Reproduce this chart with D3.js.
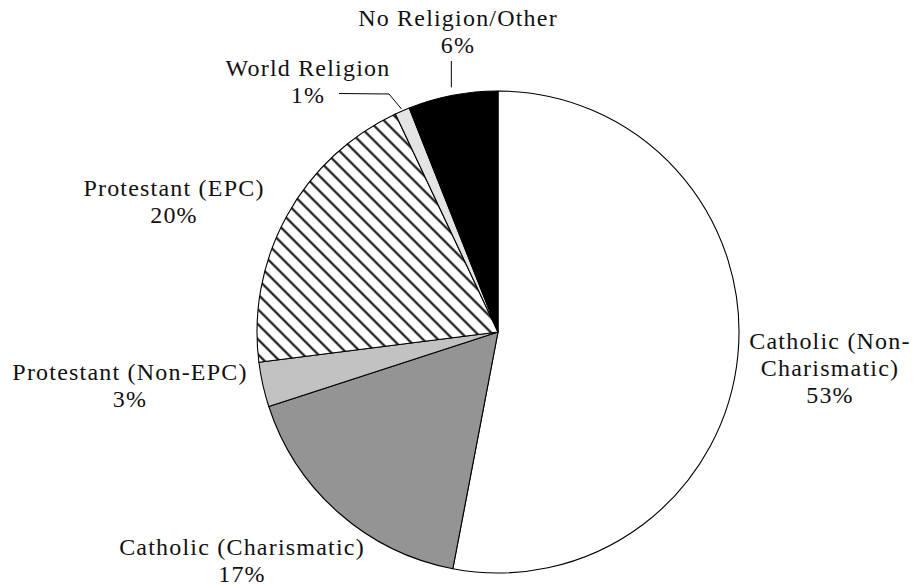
<!DOCTYPE html>
<html>
<head>
<meta charset="utf-8">
<script src="https://cdn.jsdelivr.net/npm/d3@7/dist/d3.min.js"></script>
<style>
  html, body { margin: 0; padding: 0; background: #fff; }
  svg text { font-family: "Liberation Serif", "Times New Roman", serif; font-size: 24px; letter-spacing: 1.2px; fill: #111; }
</style>
</head>
<body>
<svg id="chart" width="913" height="586"></svg>
<script>
// Religious affiliation shares, clockwise from 12 o'clock
const categories = [
  "Catholic (Non-Charismatic)",
  "Catholic (Charismatic)",
  "Protestant (Non-EPC)",
  "Protestant (EPC)",
  "World Religion",
  "No Religion/Other"
];
const shares = [53, 17, 3, 20, 1, 6];

// Label text lines for each slice (the value line is appended from shares)
const labelLines = [
  ["Catholic (Non-", "Charismatic)"],
  ["Catholic (Charismatic)"],
  ["Protestant (Non-EPC)"],
  ["Protestant (EPC)"],
  ["World Religion"],
  ["No Religion/Other"]
];

// Label anchor (centre x, first baseline y) per slice
const labelPos = [
  [830, 349],
  [242, 555],
  [130, 380],
  [174, 196],
  [308, 76],
  [458, 26]
];

const fills = ["#ffffff", "#949494", "#c2c2c2", "url(#hatch)", "#e4e4e4", "#000000"];

const svg = d3.select("#chart");
const cx = 498, cy = 332, radius = 241;

// diagonal hatch for the EPC slice
const hs = 10.6;
const defs = svg.append("defs");
const pat = defs.append("pattern")
  .attr("id", "hatch")
  .attr("patternUnits", "userSpaceOnUse")
  .attr("width", hs).attr("height", hs)
  .attr("patternTransform", "rotate(45)");
pat.append("rect").attr("width", hs).attr("height", hs).attr("fill", "#fff");
pat.append("line")
  .attr("x1", 0).attr("y1", hs / 2).attr("x2", hs).attr("y2", hs / 2)
  .attr("stroke", "#000").attr("stroke-width", 2);

const pie = d3.pie().value(d => d).sort(null);
const arcs = pie(shares);
const arc = d3.arc().innerRadius(0).outerRadius(radius);

const g = svg.append("g").attr("transform", `translate(${cx},${cy})`);
g.selectAll("path.slice")
  .data(arcs)
  .join("path")
  .attr("class", "slice")
  .attr("d", arc)
  .attr("fill", (d, i) => fills[i])
  .attr("stroke", "#000")
  .attr("stroke-width", 1.1)
  .attr("stroke-linejoin", "round");

// labels
const lineH = 27;
const labels = svg.append("g");
categories.forEach((c, i) => {
  const lines = labelLines[i].concat([shares[i] + "%"]);
  const t = labels.append("text")
    .attr("text-anchor", "middle")
    .attr("x", labelPos[i][0])
    .attr("y", labelPos[i][1]);
  lines.forEach((s, k) => {
    t.append("tspan").attr("x", labelPos[i][0]).attr("dy", k === 0 ? 0 : lineH).text(s);
  });
});

// leader lines for the two narrow top slices
function edgePoint(d, r) {
  const a = (d.startAngle + d.endAngle) / 2;
  return [cx + r * Math.sin(a), cy - r * Math.cos(a)];
}
const line = d3.line();
const pNone = edgePoint(arcs[5], radius + 8);
svg.append("path")
  .attr("d", line([[pNone[0], 61], [pNone[0], pNone[1]]]))
  .attr("fill", "none").attr("stroke", "#000").attr("stroke-width", 1);
const pWorld = edgePoint(arcs[4], radius + 2);
svg.append("path")
  .attr("d", line([[339, 93.5], [389, 94], pWorld]))
  .attr("fill", "none").attr("stroke", "#000").attr("stroke-width", 1);
</script>
</body>
</html>
